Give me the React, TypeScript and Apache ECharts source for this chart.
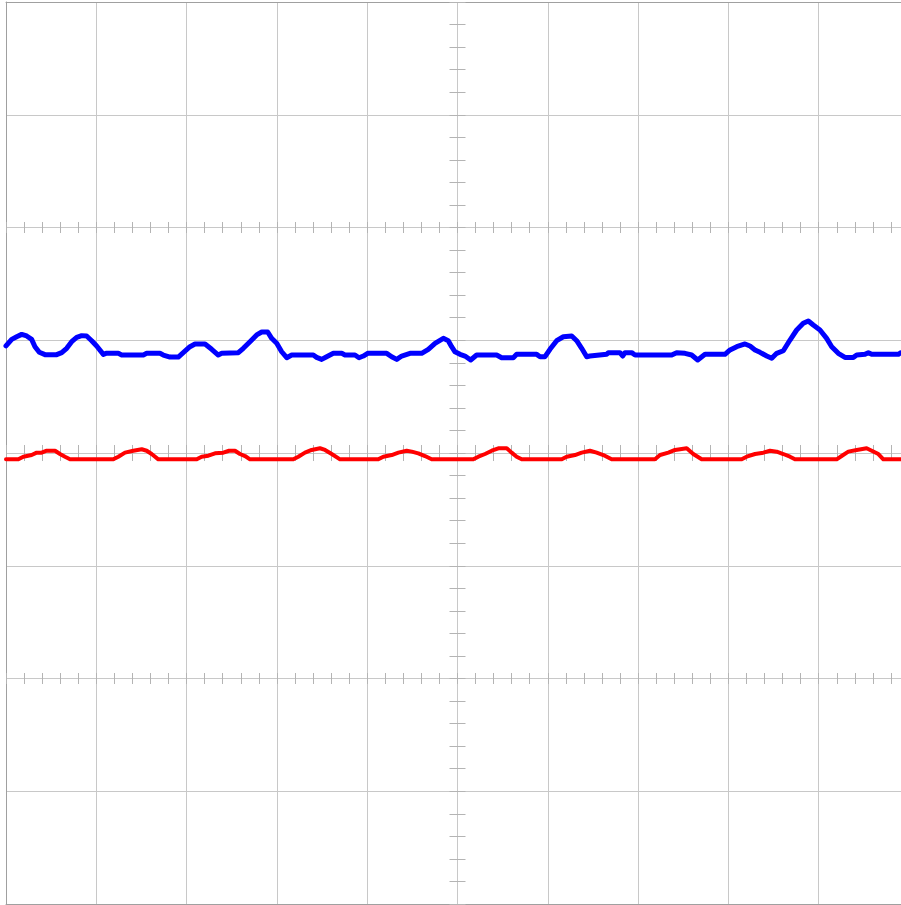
import React, { useEffect, useRef } from "react";
import * as echarts from "echarts";

// Time in divisions (0..10), amplitude in divisions (-4..4)
const ch1Samples: [number, number][] = [
  [0, 0.95], [0.063, 1.008], [0.118, 1.031], [0.174, 1.052], [0.229, 1.038], [0.284, 1.008],
  [0.321, 0.943], [0.369, 0.893], [0.432, 0.872], [0.561, 0.872], [0.617, 0.89], [0.672, 0.929],
  [0.727, 0.987], [0.783, 1.026], [0.838, 1.041], [0.893, 1.038], [0.949, 0.996], [1.004, 0.949],
  [1.078, 0.875], [1.107, 0.884], [1.244, 0.884], [1.281, 0.869], [1.521, 0.869], [1.558, 0.884],
  [1.705, 0.884], [1.742, 0.869], [1.816, 0.851], [1.908, 0.851], [1.963, 0.89], [2.037, 0.943],
  [2.093, 0.967], [2.204, 0.967], [2.278, 0.92], [2.351, 0.869], [2.389, 0.884], [2.573, 0.89],
  [2.628, 0.929], [2.702, 0.987], [2.776, 1.047], [2.832, 1.073], [2.898, 1.073], [2.942, 1.017],
  [2.998, 0.973], [3.053, 0.898], [3.109, 0.845], [3.164, 0.869], [3.403, 0.869], [3.44, 0.848],
  [3.496, 0.83], [3.551, 0.854], [3.625, 0.884], [3.718, 0.884], [3.754, 0.869], [3.865, 0.869],
  [3.909, 0.845], [3.957, 0.86], [4.005, 0.884], [4.216, 0.884], [4.271, 0.854], [4.327, 0.83],
  [4.382, 0.86], [4.474, 0.884], [4.603, 0.884], [4.677, 0.92], [4.751, 0.973], [4.843, 1.017],
  [4.898, 0.996], [4.935, 0.943], [4.972, 0.898], [5.028, 0.875], [5.083, 0.86], [5.146, 0.825],
  [5.212, 0.869], [5.434, 0.869], [5.489, 0.845], [5.618, 0.845], [5.655, 0.875], [5.877, 0.875],
  [5.914, 0.854], [5.969, 0.854], [6.024, 0.92], [6.098, 0.996], [6.172, 1.031], [6.265, 1.038],
  [6.32, 0.996], [6.375, 0.929], [6.431, 0.854], [6.467, 0.86], [6.652, 0.875], [6.67, 0.89],
  [6.799, 0.89], [6.829, 0.86], [6.855, 0.89], [6.929, 0.89], [6.966, 0.869], [7.372, 0.869],
  [7.427, 0.89], [7.519, 0.884], [7.593, 0.869], [7.66, 0.825], [7.741, 0.875], [7.962, 0.875],
  [8.018, 0.914], [8.092, 0.943], [8.184, 0.967], [8.239, 0.949], [8.295, 0.914], [8.35, 0.893],
  [8.424, 0.86], [8.48, 0.84], [8.535, 0.884], [8.608, 0.907], [8.682, 1.002], [8.756, 1.091],
  [8.829, 1.15], [8.885, 1.171], [8.94, 1.135], [9.014, 1.091], [9.088, 1.017], [9.144, 0.943],
  [9.217, 0.884], [9.291, 0.848], [9.384, 0.848], [9.421, 0.869], [9.513, 0.875], [9.55, 0.89],
  [9.587, 0.875], [9.882, 0.875], [9.911, 0.89], [10, 0.885],
];

const ch2Samples: [number, number][] = [
  [0, -0.056], [0.137, -0.056], [0.192, -0.033], [0.284, -0.018], [0.34, 0.003], [0.395, 0.003],
  [0.451, 0.02], [0.543, 0.02], [0.598, -0.009], [0.653, -0.033], [0.709, -0.056], [1.188, -0.056],
  [1.244, -0.033], [1.318, 0.003], [1.41, 0.02], [1.503, 0.033], [1.558, 0.02], [1.613, -0.009],
  [1.687, -0.056], [2.112, -0.056], [2.167, -0.033], [2.241, -0.024], [2.315, -0.003], [2.407, 0.003],
  [2.47, 0.02], [2.536, 0.02], [2.591, -0.009], [2.647, -0.027], [2.702, -0.056], [3.182, -0.056],
  [3.237, -0.033], [3.311, 0.003], [3.385, 0.027], [3.477, 0.042], [3.533, 0.027], [3.607, -0.009],
  [3.699, -0.056], [4.123, -0.056], [4.179, -0.033], [4.271, -0.018], [4.345, 0.003], [4.437, 0.02],
  [4.493, 0.012], [4.566, -0.003], [4.64, -0.027], [4.714, -0.056], [5.175, -0.056], [5.231, -0.033],
  [5.305, -0.009], [5.379, 0.02], [5.452, 0.042], [5.545, 0.042], [5.6, 0.003], [5.655, -0.033],
  [5.711, -0.056], [6.154, -0.056], [6.209, -0.033], [6.301, -0.018], [6.375, 0.003], [6.467, 0.02],
  [6.541, 0.003], [6.615, -0.018], [6.707, -0.056], [7.187, -0.056], [7.243, -0.018], [7.335, 0.003],
  [7.409, 0.027], [7.538, 0.042], [7.611, -0.009], [7.704, -0.056], [8.147, -0.056], [8.202, -0.033],
  [8.295, -0.009], [8.387, 0.003], [8.461, 0.02], [8.535, 0.012], [8.608, -0.009], [8.682, -0.033],
  [8.737, -0.056], [9.199, -0.056], [9.254, -0.027], [9.328, 0.012], [9.421, 0.027], [9.531, 0.042],
  [9.587, 0.02], [9.661, -0.009], [9.716, -0.056], [10, -0.056],
];

// Graticule definition
const X_DIVS = [0, 10];
const Y_DIVS = [-4, 4];
const TICKED_H_LINES = [2, 0, -2];
const TICKED_V_LINES = [5];

const GRID_LEFT = 6;
const GRID_TOP = 2;
const GRID_W = 903;
const GRID_H = 902;

const GRID_COLOR = "#c8c8c8";
const BORDER_COLOR = "#a0a0a0";
const TICK_COLOR = "#b4b4b4";

export default function App() {
  const ref = useRef<HTMLDivElement>(null);

  useEffect(() => {
    if (!ref.current) return;
    const chart = echarts.init(ref.current, undefined, { renderer: "svg" });

    const yToPx = (v: number) => GRID_TOP + (GRID_H * (Y_DIVS[1] - v)) / (Y_DIVS[1] - Y_DIVS[0]);
    const xToPx = (t: number) => GRID_LEFT + (GRID_W * (t - X_DIVS[0])) / (X_DIVS[1] - X_DIVS[0]);

    const tickXAxes = TICKED_H_LINES.map((v) => {
      const L = v === 0 ? 16 : 11;
      const lineY = yToPx(v);
      return {
        type: "value",
        gridIndex: 0,
        position: "top",
        offset: -(lineY + L / 2 - GRID_TOP),
        min: X_DIVS[0],
        max: X_DIVS[1],
        interval: 1,
        axisLine: { show: false, onZero: false },
        axisLabel: { show: false },
        splitLine: { show: false },
        axisTick: { show: true, length: L, lineStyle: { color: TICK_COLOR, width: 1 } },
        minorTick: { show: true, splitNumber: 5, length: L, lineStyle: { color: TICK_COLOR, width: 1 } },
      };
    });

    const tickYAxes = TICKED_V_LINES.map((t) => {
      const L = 16;
      const lineX = xToPx(t);
      return {
        type: "value",
        gridIndex: 0,
        position: "left",
        offset: -(lineX + L / 2 - GRID_LEFT),
        min: Y_DIVS[0],
        max: Y_DIVS[1],
        interval: 1,
        axisLine: { show: false, onZero: false },
        axisLabel: { show: false },
        splitLine: { show: false },
        axisTick: { show: true, length: L, lineStyle: { color: TICK_COLOR, width: 1 } },
        minorTick: { show: true, splitNumber: 5, length: L, lineStyle: { color: TICK_COLOR, width: 1 } },
      };
    });

    const option: any = {
      animation: false,
      backgroundColor: "#ffffff",
      grid: {
        left: GRID_LEFT,
        top: GRID_TOP,
        width: GRID_W,
        height: GRID_H,
        containLabel: false,
        outerBoundsMode: "none",
      },
      xAxis: [
        {
          type: "value",
          position: "bottom",
          min: X_DIVS[0],
          max: X_DIVS[1],
          interval: 1,
          axisLine: { show: true, onZero: false, lineStyle: { color: BORDER_COLOR, width: 1 } },
          axisTick: { show: false },
          axisLabel: { show: false },
          splitLine: { show: true, showMinLine: false, showMaxLine: false, lineStyle: { color: GRID_COLOR, width: 1 } },
        },
        {
          type: "value",
          position: "top",
          min: X_DIVS[0],
          max: X_DIVS[1],
          interval: 1,
          axisLine: { show: true, onZero: false, lineStyle: { color: BORDER_COLOR, width: 1 } },
          axisTick: { show: false },
          axisLabel: { show: false },
          splitLine: { show: false },
        },
        ...tickXAxes,
      ],
      yAxis: [
        {
          type: "value",
          position: "left",
          min: Y_DIVS[0],
          max: Y_DIVS[1],
          interval: 1,
          axisLine: { show: true, onZero: false, lineStyle: { color: BORDER_COLOR, width: 1 } },
          axisTick: { show: false },
          axisLabel: { show: false },
          splitLine: { show: true, showMinLine: false, showMaxLine: false, lineStyle: { color: GRID_COLOR, width: 1 } },
        },
        ...tickYAxes,
      ],
      series: [
        {
          name: "CH2",
          type: "line",
          xAxisIndex: 0,
          yAxisIndex: 0,
          data: ch2Samples,
          showSymbol: false,
          symbol: "none",
          smooth: false,
          lineStyle: { color: "#ff0000", width: 4, cap: "round", join: "round" },
          z: 5,
        },
        {
          name: "CH1",
          type: "line",
          xAxisIndex: 0,
          yAxisIndex: 0,
          data: ch1Samples,
          showSymbol: false,
          symbol: "none",
          smooth: false,
          lineStyle: { color: "#0000ff", width: 5, cap: "round", join: "round" },
          z: 6,
        },
      ],
    };

    chart.setOption(option);
    return () => chart.dispose();
  }, []);

  return (
    <div
      style={{ position: "absolute", left: 0, top: 0, width: 901, height: 905, overflow: "hidden", background: "#fff" }}
    >
      <div ref={ref} style={{ width: 901, height: 905 }} />
    </div>
  );
}
